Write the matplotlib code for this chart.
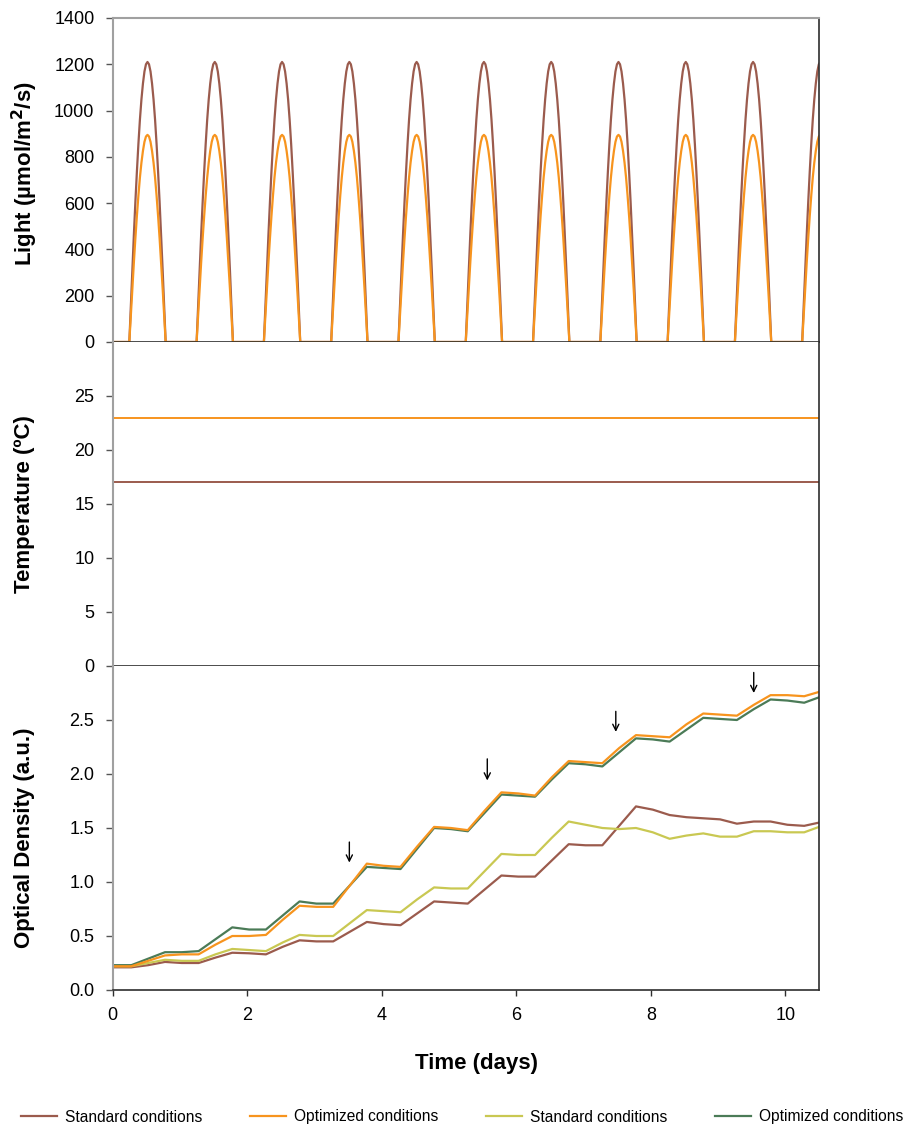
import numpy as np
import matplotlib
matplotlib.use("Agg")
import matplotlib.pyplot as plt
from matplotlib.ticker import FormatStrFormatter

plt.rcParams['font.family'] = ['Liberation Sans', 'DejaVu Sans']

# ---------------- data ----------------
# daily light profile (day fraction), repeated each day
LIGHT_OFFSETS = [0.250, 0.2725, 0.295, 0.3175, 0.340, 0.3625, 0.385, 0.4075, 0.430, 0.4525,
                 0.475, 0.4975, 0.520, 0.5425, 0.565, 0.5875, 0.610, 0.6325, 0.655, 0.6775,
                 0.700, 0.7225, 0.745, 0.7675, 0.790]
LIGHT_STANDARD = [0, 158, 313, 463, 605, 736, 856, 961, 1048, 1117, 1169, 1200, 1210,
                  1200, 1169, 1117, 1048, 961, 856, 736, 605, 463, 313, 158, 0]
LIGHT_OPTIMIZED = [0, 117, 232, 343, 448, 545, 633, 711, 775, 826, 865, 888, 895,
                   888, 865, 826, 775, 711, 633, 545, 448, 343, 232, 117, 0]
DAYS = list(range(11))

TEMP_STANDARD = 17
TEMP_OPTIMIZED = 23

OD_TIME = [0, 0.28, 0.53, 0.78, 1.03, 1.28, 1.53, 1.78, 2.03, 2.28, 2.53, 2.78, 3.03, 3.28,
           3.53, 3.78, 4.03, 4.28, 4.53, 4.78, 5.03, 5.28, 5.53, 5.78, 6.03, 6.28, 6.53, 6.78,
           7.03, 7.28, 7.53, 7.78, 8.03, 8.28, 8.53, 8.78, 9.03, 9.28, 9.53, 9.78, 10.03, 10.28, 10.5]
OD_STD_A = [0.21, 0.21, 0.23, 0.26, 0.25, 0.25, 0.30, 0.345, 0.34, 0.33, 0.40, 0.46, 0.45, 0.45,
            0.54, 0.63, 0.61, 0.60, 0.71, 0.82, 0.81, 0.80, 0.93, 1.06, 1.05, 1.05, 1.20, 1.35,
            1.34, 1.34, 1.52, 1.70, 1.67, 1.62, 1.60, 1.59, 1.58, 1.54, 1.56, 1.56, 1.53, 1.52, 1.55]
OD_OPT_A = [0.22, 0.22, 0.27, 0.32, 0.33, 0.33, 0.42, 0.50, 0.50, 0.51, 0.65, 0.78, 0.77, 0.77,
            0.97, 1.17, 1.15, 1.14, 1.33, 1.51, 1.50, 1.48, 1.66, 1.83, 1.82, 1.80, 1.97, 2.12,
            2.11, 2.10, 2.24, 2.36, 2.35, 2.34, 2.46, 2.56, 2.55, 2.54, 2.64, 2.73, 2.73, 2.72, 2.76]
OD_STD_B = [0.22, 0.22, 0.25, 0.28, 0.27, 0.27, 0.33, 0.38, 0.37, 0.36, 0.44, 0.51, 0.50, 0.50,
            0.62, 0.74, 0.73, 0.72, 0.84, 0.95, 0.94, 0.94, 1.10, 1.26, 1.25, 1.25, 1.41, 1.56,
            1.53, 1.50, 1.49, 1.50, 1.46, 1.40, 1.43, 1.45, 1.42, 1.42, 1.47, 1.47, 1.46, 1.46, 1.51]
OD_OPT_B = [0.23, 0.23, 0.29, 0.35, 0.35, 0.36, 0.47, 0.58, 0.56, 0.56, 0.69, 0.82, 0.80, 0.80,
            0.97, 1.14, 1.13, 1.12, 1.31, 1.50, 1.49, 1.47, 1.64, 1.81, 1.80, 1.79, 1.95, 2.10,
            2.09, 2.07, 2.20, 2.33, 2.32, 2.30, 2.41, 2.52, 2.51, 2.50, 2.60, 2.69, 2.68, 2.66, 2.71]

ARROW_X = [3.52, 5.57, 7.48, 9.53]
ARROW_TOP = [1.37, 2.14, 2.58, 2.94]
ARROW_TIP = [1.18, 1.94, 2.39, 2.75]

LEGEND_LABELS = ['Standard conditions', 'Optimized conditions', 'Standard conditions', 'Optimized conditions']

C_BROWN = '#9B5B4D'
C_ORANGE = '#F7941E'
C_YELLOW = '#C9C852'
C_GREEN = '#4B7B57'
GREY = '#A0A0A0'
DARK = '#2E2E2E'

# build light series by repeating the daily profile
light_t = [0.0]
light_s = [0.0]
light_o = [0.0]
for d in DAYS:
    for off, vs, vo in zip(LIGHT_OFFSETS, LIGHT_STANDARD, LIGHT_OPTIMIZED):
        light_t.append(d + off)
        light_s.append(vs)
        light_o.append(vo)

# ---------------- figure ----------------
fig = plt.figure(figsize=(9.09, 11.31), dpi=100)
W, H = 909.0, 1131.0
left = 112.5 / W
width = (819 - 112.5) / W
tops = [18, 342, 666]
ph = 324
axes = []
for t in tops:
    ax = fig.add_axes([left, 1 - (t + ph) / H, width, ph / H])
    axes.append(ax)
ax1, ax2, ax3 = axes

for i, ax in enumerate(axes):
    ax.set_xlim(0, 10.5)
    ax.spines['left'].set_color(GREY)
    ax.spines['left'].set_linewidth(1.5)
    ax.spines['right'].set_color(DARK)
    ax.spines['right'].set_linewidth(1.2)
    ax.spines['bottom'].set_color(DARK)
    ax.spines['bottom'].set_linewidth(1.2)
    if i == 0:
        ax.spines['top'].set_color(GREY)
        ax.spines['top'].set_linewidth(1.5)
    else:
        ax.spines['top'].set_visible(False)
    ax.tick_params(axis='y', direction='out', length=5, width=1, color='#555555',
                   labelsize=13, pad=8)
    ax.tick_params(axis='x', direction='out', length=4, width=1, color=DARK,
                   labelsize=13, pad=8)
    ax.set_xticks([0, 2, 4, 6, 8, 10])
    if i < 2:
        ax.tick_params(axis='x', bottom=False, labelbottom=False)
    ax.yaxis.set_label_coords(-0.11, 0.5)

# Light
ax1.plot(light_t, light_s, color=C_BROWN, lw=1.6)
ax1.plot(light_t, light_o, color=C_ORANGE, lw=1.6)
ax1.set_ylim(0, 1400)
ax1.set_yticks(range(0, 1401, 200))
ax1.set_ylabel('Light (µmol/m$\\mathbf{^2}$/s)', fontsize=16, fontweight='bold')
ax1.yaxis.set_label_coords(-0.103, 0.52)

# Temperature
ax2.plot([0, 10.5], [TEMP_OPTIMIZED, TEMP_OPTIMIZED], color=C_ORANGE, lw=1.4)
ax2.plot([0, 10.5], [TEMP_STANDARD, TEMP_STANDARD], color=C_BROWN, lw=1.4)
ax2.set_ylim(0, 30)
ax2.set_yticks(range(0, 26, 5))
ax2.set_ylabel('Temperature (ºC)', fontsize=16, fontweight='bold')

# Optical density
l1, = ax3.plot(OD_TIME, OD_STD_A, color=C_BROWN, lw=1.6)
l3, = ax3.plot(OD_TIME, OD_STD_B, color=C_YELLOW, lw=1.6)
l4, = ax3.plot(OD_TIME, OD_OPT_B, color=C_GREEN, lw=1.6)
l2, = ax3.plot(OD_TIME, OD_OPT_A, color=C_ORANGE, lw=1.6)
ax3.set_ylim(0, 3.0)
ax3.set_yticks([0.0, 0.5, 1.0, 1.5, 2.0, 2.5])
ax3.yaxis.set_major_formatter(FormatStrFormatter('%.1f'))
ax3.set_ylabel('Optical Density (a.u.)', fontsize=16, fontweight='bold')
ax3.yaxis.set_label_coords(-0.11, 0.47)

for x, y0, y1 in zip(ARROW_X, ARROW_TOP, ARROW_TIP):
    ax3.annotate('', xy=(x, y1), xytext=(x, y0),
                 arrowprops=dict(arrowstyle='->', lw=1.0, color='black',
                                 shrinkA=0, shrinkB=0, mutation_scale=11))

fig.text(476 / W, 1 - 1064 / H, 'Time (days)', ha='center', va='center',
         fontsize=16, fontweight='bold')

leg = fig.legend([l1, l2, l3, l4], LEGEND_LABELS, loc='center left',
                 bbox_to_anchor=(21 / W, 1 - 1117 / H), ncol=4, frameon=False,
                 fontsize=11.2, handlelength=2.3, handletextpad=0.5,
                 columnspacing=3.1, borderpad=0, borderaxespad=0)

fig.savefig('out.png', dpi=100)
